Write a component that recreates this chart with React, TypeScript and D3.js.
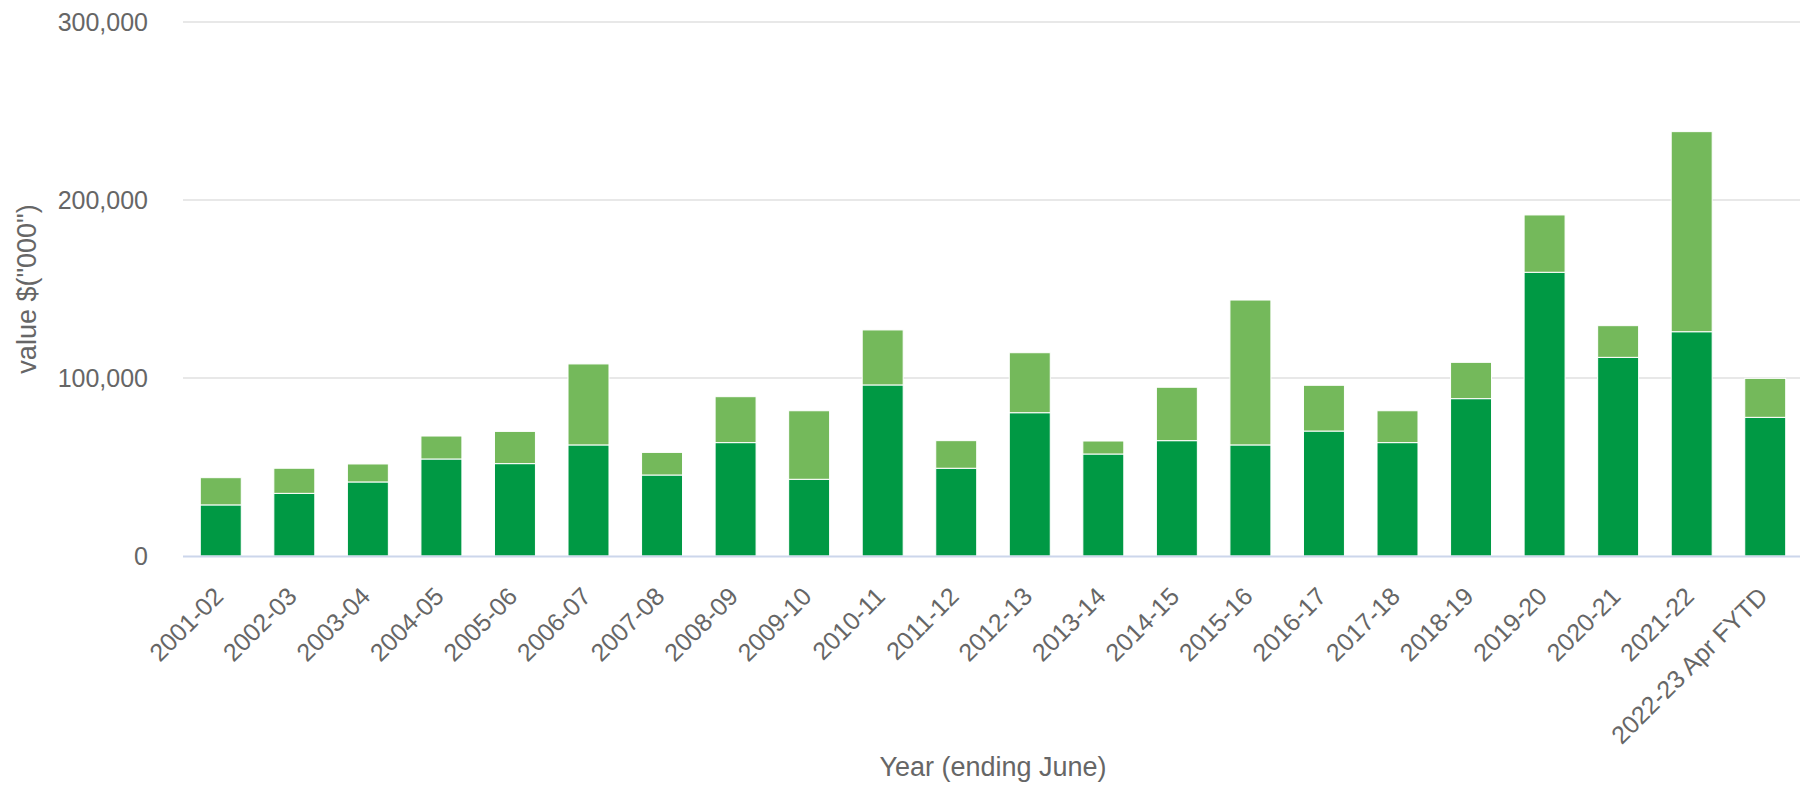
import React from "react";
import * as d3 from "d3";

const categories = [
  "2001-02", "2002-03", "2003-04", "2004-05", "2005-06", "2006-07", "2007-08",
  "2008-09", "2009-10", "2010-11", "2011-12", "2012-13", "2013-14", "2014-15",
  "2015-16", "2016-17", "2017-18", "2018-19", "2019-20", "2020-21", "2021-22",
  "2022-23 Apr FYTD",
];

// lower (dark green) series, $'000
const darkSeries = [
  28700, 35200, 41600, 54500, 51900, 62400, 45500, 63700, 43100, 96100, 49300,
  80500, 57300, 64800, 62400, 70200, 63700, 88400, 159400, 111600, 126000, 77900,
];

// upper (light green) series, $'000
const lightSeries = [
  15300, 14100, 10100, 12900, 18100, 45500, 12700, 25800, 38500, 30900, 15500,
  33700, 7300, 30000, 81400, 25700, 17900, 20400, 32200, 17800, 112400, 21900,
];

const yTicks = [0, 100000, 200000, 300000];

const W = 1800;
const H = 788;
const FONT = "'Liberation Sans', Arial, Helvetica, sans-serif";
const TEXT = "#666666";

export default function App() {
  const x = d3
    .scaleBand<string>()
    .domain(categories)
    .range([184, 1802])
    .paddingInner(0.443)
    .paddingOuter(0.2215);
  const y = d3.scaleLinear().domain([0, 300000]).range([556, 22]);

  const rows = categories.map((c, i) => ({ cat: c, dark: darkSeries[i], light: lightSeries[i] }));
  const stacked = d3.stack<any>().keys(["dark", "light"])(rows);
  const colors: Record<string, string> = { dark: "#009944", light: "#74b95b" };
  const fmt = d3.format(",");

  return (
    <svg
      width={W}
      height={H}
      style={{ position: "absolute", left: 0, top: 0, display: "block", background: "#ffffff" }}
      fontFamily={FONT}
    >
      {/* grid */}
      {yTicks.filter((t) => t > 0).map((t) => (
        <line key={t} x1={183} x2={W} y1={y(t)} y2={y(t)} stroke="#e0e0e0" strokeWidth={1.5} />
      ))}
      {/* y tick labels */}
      {yTicks.map((t) => (
        <text key={t} x={148} y={y(t)} dy="0.35em" textAnchor="end" fontSize={25} fill={TEXT}>
          {fmt(t)}
        </text>
      ))}
      {/* bars */}
      {stacked.map((s) => (
        <g key={s.key} fill={colors[s.key]}>
          {s.map((d: any, i: number) => (
            <rect
              key={i}
              x={x(d.data.cat)}
              y={y(d[1])}
              width={x.bandwidth()}
              height={y(d[0]) - y(d[1])}
              stroke="#ffffff"
              strokeWidth={1}
            />
          ))}
        </g>
      ))}
      {/* x axis line */}
      <line x1={183} x2={W} y1={y(0) + 0.5} y2={y(0) + 0.5} stroke="#ccd6eb" strokeWidth={2} />
      {/* x tick labels */}
      {categories.map((c) => {
        const cx = (x(c) as number) + x.bandwidth() / 2 + 4;
        const cy = 598;
        return (
          <text
            key={c}
            x={cx}
            y={cy}
            textAnchor="end"
            fontSize={25}
            fill={TEXT}
            transform={`rotate(-45 ${cx} ${cy})`}
          >
            {c}
          </text>
        );
      })}
      {/* axis titles */}
      <text x={993} y={767} dy="0.35em" textAnchor="middle" fontSize={27} fill={TEXT}>
        Year (ending June)
      </text>
      <text
        x={0}
        y={0}
        dy="0.35em"
        textAnchor="middle"
        fontSize={27}
        fill={TEXT}
        transform={`translate(27 ${(y(0) + y(300000)) / 2}) rotate(-90)`}
      >
        value $("000")
      </text>
    </svg>
  );
}
